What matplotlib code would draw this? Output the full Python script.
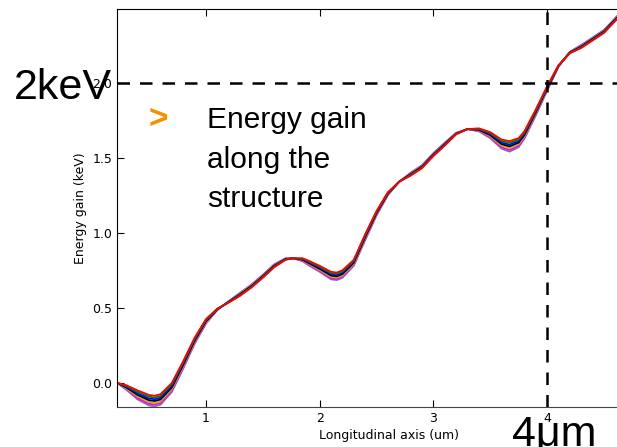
import matplotlib
matplotlib.use("Agg")
import matplotlib.pyplot as plt
import numpy as np

# centre curve of the bundle
x_um = [0.22, 0.3, 0.4, 0.5, 0.55, 0.6, 0.7, 0.8, 0.9, 1.0, 1.1, 1.2, 1.3, 1.4,
        1.5, 1.6, 1.7, 1.77, 1.85, 1.9, 2.0, 2.1, 2.15, 2.2, 2.3, 2.4, 2.5, 2.6,
        2.7, 2.8, 2.9, 3.0, 3.1, 3.2, 3.3, 3.4, 3.5, 3.6, 3.67, 3.75, 3.8, 3.9,
        4.0, 4.1, 4.2, 4.3, 4.4, 4.5, 4.6, 4.7]
gain_kev = [0.0, -0.03, -0.08, -0.115, -0.12, -0.11, -0.03, 0.12, 0.28, 0.41,
            0.49, 0.54, 0.59, 0.645, 0.71, 0.78, 0.825, 0.83, 0.82, 0.80, 0.76,
            0.715, 0.71, 0.725, 0.8, 0.97, 1.13, 1.26, 1.34, 1.39, 1.44, 1.52,
            1.59, 1.66, 1.69, 1.685, 1.65, 1.59, 1.575, 1.6, 1.65, 1.8, 1.96,
            2.11, 2.2, 2.24, 2.29, 2.34, 2.42, 2.5]
# width of the bundle (top line minus bottom line), same x points
spread_kev = [0.0, 0.03, 0.06, 0.07, 0.07, 0.07, 0.06, 0.05, 0.04, 0.03, 0.01,
              -0.01, -0.02, -0.02, -0.02, -0.02, -0.01, 0.0, 0.02, 0.03, 0.04,
              0.05, 0.05, 0.05, 0.04, 0.04, 0.03, 0.02, 0.0, -0.02, -0.02,
              -0.02, -0.02, -0.01, 0.0, 0.02, 0.04, 0.06, 0.07, 0.06, 0.05,
              0.04, 0.03, 0.01, -0.01, -0.02, -0.02, -0.02, -0.02, -0.02]

line_colors = ["#7f6f9f", "magenta", "#bfbf00", "black", "blue", "green", "red"]
line_pos = [-0.5, -0.333, -0.167, 0.0, 0.167, 0.333, 0.5]

callout = ["Energy gain", "along the", "structure"]

x = np.array(x_um)
base = np.array(gain_kev)
spread = np.array(spread_kev)

fig = plt.figure(figsize=(6.17, 4.47), dpi=100)
ax = fig.add_axes([0.190, 0.0895, 0.881, 0.8905])

for c, p in zip(line_colors, line_pos):
    ax.plot(x, base + p * spread, color=c, lw=1.3, solid_joinstyle="round")

ax.axhline(2.0, color="black", ls="--", lw=1.8, dashes=(5, 4))
ax.axvline(4.0, color="black", ls="--", lw=1.8, dashes=(5, 4))

ax.set_xlim(0.22, 5.0)
ax.set_ylim(-0.16, 2.49)
ax.set_xticks([1, 2, 3, 4])
ax.set_yticks([0.0, 0.5, 1.0, 1.5, 2.0])
ax.set_yticklabels(["0.0", "0.5", "1.0", "1.5", "2.0"])
ax.tick_params(direction="in", length=5, top=True, right=True, labelsize=9)
ax.spines["bottom"].set_color("#444444")
ax.set_xlabel("Longitudinal axis (um)", fontsize=9, labelpad=3)
ax.set_ylabel("Energy gain (keV)", fontsize=9)

big = "Liberation Sans"
fig.text(14 / 617, 1 - 99 / 447, "2keV", fontsize=31, family=big, va="baseline")
fig.text(512 / 617, 1 - 446 / 447, "4μm", fontsize=31, family=big, va="baseline")
fig.text(149 / 617, 1 - 128 / 447, ">", fontsize=24, family=big,
         fontweight="bold", color="#f39200", va="baseline")
for i, line in enumerate(callout):
    fig.text(207 / 617, 1 - (128 + 39.5 * i) / 447, line,
             fontsize=21.5, family=big, va="baseline")

fig.savefig("out.png", dpi=100)
